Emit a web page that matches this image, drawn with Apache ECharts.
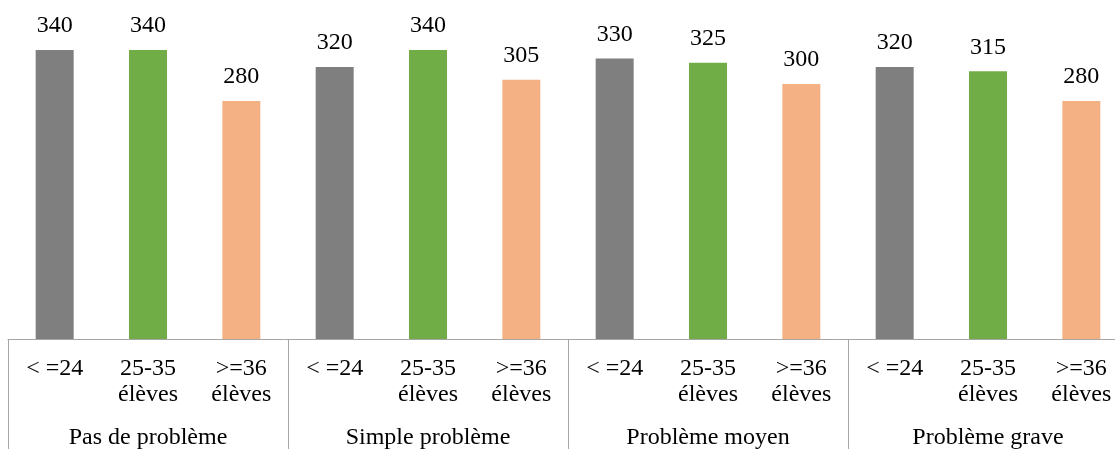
<!DOCTYPE html>
<html><head><meta charset="utf-8">
<script src="https://cdn.jsdelivr.net/npm/echarts@6/dist/echarts.min.js"></script>
<style>html,body{margin:0;padding:0;background:#fff}#c{width:1115px;height:449px}</style>
</head><body><div id="c"></div>
<script>
const groups = ['Pas de problème', 'Simple problème', 'Problème moyen', 'Problème grave'];
const subCategories = ['< =24', '25-35\nélèves', '>=36\nélèves'];
const values = [340, 340, 280, 320, 340, 305, 330, 325, 300, 320, 315, 280];
const subColors = ['#7f7f7f', '#70ad47', '#f4b183'];

const categories = [];
groups.forEach(() => subCategories.forEach(s => categories.push(s)));

const font = 'Liberation Serif';
const chart = echarts.init(document.getElementById('c'));
chart.setOption({
  animation: false,
  grid: { left: 8, width: 1120, top: -1, bottom: 110, containLabel: false, outerBoundsMode: 'none' },
  xAxis: [
    {
      type: 'category', data: categories, position: 'bottom',
      axisLine: { show: true, lineStyle: { color: '#a6a6a6', width: 1 } },
      axisTick: { show: false },
      axisLabel: { interval: 0, margin: 17, fontFamily: font, fontSize: 24, color: '#000', lineHeight: 26, align: 'center' }
    },
    {
      type: 'category', data: groups, position: 'bottom',
      axisLine: { show: false },
      axisTick: { show: true, length: 112, lineStyle: { color: '#a6a6a6', width: 1 } },
      axisLabel: { interval: 0, margin: 87, fontFamily: font, fontSize: 24, color: '#000' }
    }
  ],
  yAxis: { type: 'value', min: 0, max: 400, show: false, splitLine: { show: false } },
  series: [{
    type: 'bar', xAxisIndex: 0, barWidth: 38,
    data: values.map((v, i) => ({ value: v, itemStyle: { color: subColors[i % 3] } })),
    label: { show: true, position: 'top', distance: 12, fontFamily: font, fontSize: 24, color: '#000' }
  }]
});
</script></body></html>
